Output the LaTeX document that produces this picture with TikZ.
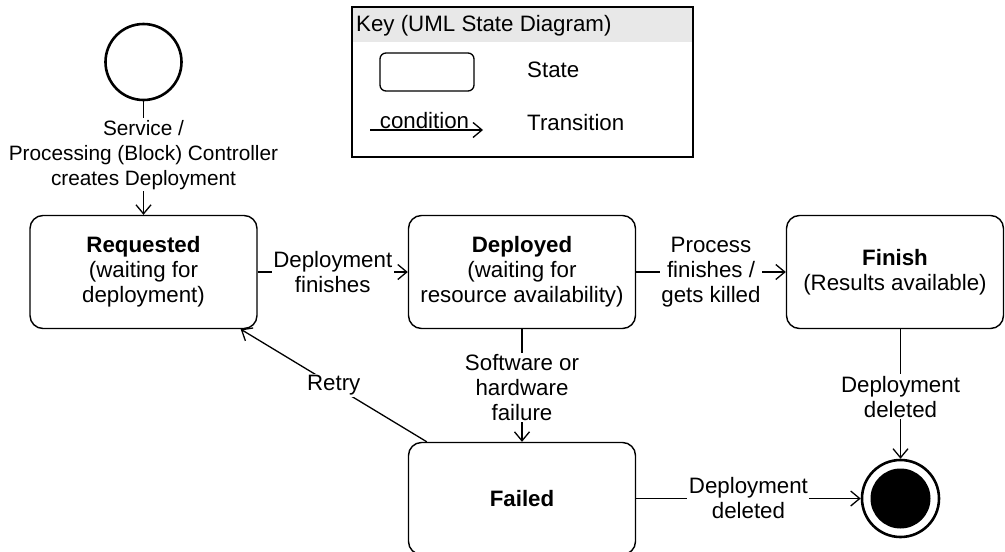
\documentclass[tikz,border=0pt]{standalone}
\usepackage{fontspec}
\setmainfont{Liberation Sans}
\usetikzlibrary{arrows.meta}
\begin{document}
\begin{tikzpicture}[x=1pt,y=-1pt,
  txt/.style={font=\fontsize{22.3}{25}\selectfont, align=center},
  state/.style={draw, line width=1.4pt, rounded corners=13pt,
    minimum width=227pt, minimum height=113pt, inner sep=0pt, txt},
  lbl/.style={fill=white, inner sep=1.5pt, txt},
  trans/.style={line width=1.3pt,
    -{Straight Barb[length=9pt,width=15pt,line width=1.3pt]}},
]
\useasboundingbox (0,0) rectangle (1005,552);

% legend
\fill[gray!18] (352,7) rectangle (693,42);
\draw[line width=1.4pt] (352,7) rectangle (693,157);
\node[txt, anchor=west, inner sep=0pt] (keytitle) at (356,26) {Key (UML State Diagram)};
\node[draw, line width=1.3pt, rounded corners=6pt, minimum width=94pt,
  minimum height=38pt, inner sep=0pt] (keystate) at (427,72) {};
\node[txt, anchor=west, inner sep=0pt] (keystatetxt) at (527,70) {State};
\coordinate (kta) at (370,130);
\coordinate (ktb) at (483,130);
\draw[trans] (kta) -- node[txt, above, inner sep=1pt, xshift=-2pt] (keycond) {condition} (ktb);
\node[txt, anchor=west, inner sep=0pt] (keytranstxt) at (527,123) {Transition};

% states
\node[circle, draw, line width=2.6pt, minimum size=76pt, inner sep=0pt] (init) at (143.5,62) {};
\node[state] (req) at (143.5,272) {\textbf{Requested}\\(waiting for\\deployment)};
\node[state] (dep) at (522,272) {\textbf{Deployed}\\(waiting for\\resource availability)};
\node[state, minimum width=217pt] (fin) at (895,272) {\textbf{Finish}\\(Results available)};
\node[state, minimum height=112pt] (fail) at (522,498.5) {\textbf{Failed}};
\node[circle, draw, line width=2.6pt, minimum size=77pt, inner sep=0pt] (final) at (900.5,498.5) {};
\node[circle, fill=black, minimum size=60pt, inner sep=0pt] (finaldot) at (final) {};

% transitions
\draw[trans] (init) -- node[lbl, pos=0.47, font=\fontsize{20.8}{25}\selectfont]
  {Service /\\Processing (Block) Controller\\creates Deployment} (req);
\draw[trans] (req) -- node[lbl] {Deployment\\finishes} (dep);
\draw[trans] (dep) -- node[lbl] {Process\\finishes /\\gets killed} (fin);
\draw[trans] (dep) -- node[lbl, pos=0.52] {Software or\\hardware\\failure} (fail);
\draw[trans] (fin.south -| final) -- node[lbl, pos=0.52] {Deployment\\deleted} (final);
\draw[trans] (fail) -- node[lbl] {Deployment\\deleted} (final);
\draw[trans] ([xshift=19pt]fail.north west) -- node[lbl] {Retry} ([xshift=-17pt]req.south east);
\end{tikzpicture}
\end{document}
